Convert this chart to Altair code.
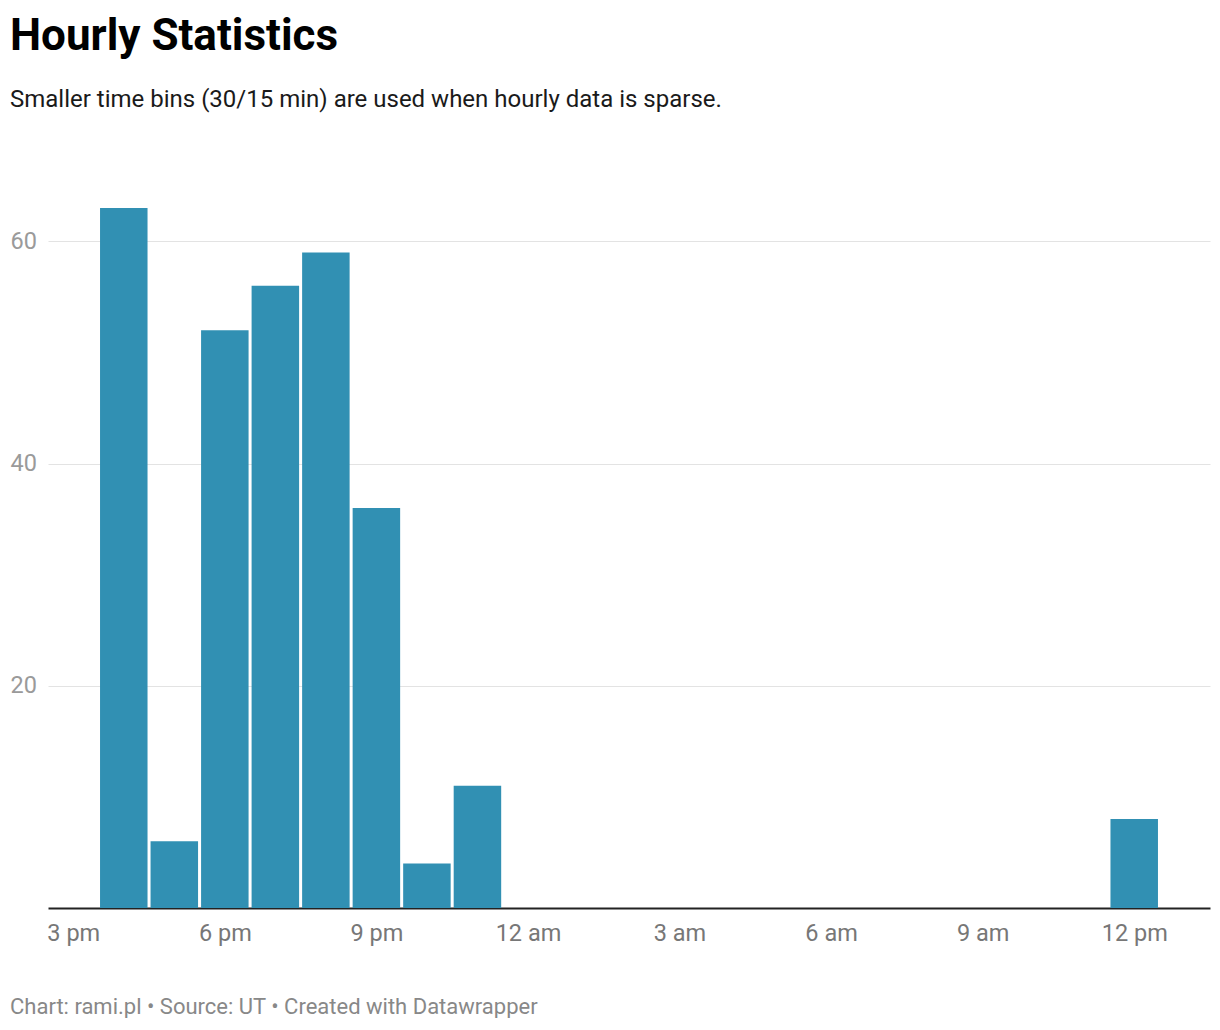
import altair as alt
import pandas as pd
from datetime import datetime, timezone

# ---- data ----
bin_times = [
    "2024-01-01T16:00:00Z", "2024-01-01T17:00:00Z", "2024-01-01T18:00:00Z",
    "2024-01-01T19:00:00Z", "2024-01-01T20:00:00Z", "2024-01-01T21:00:00Z",
    "2024-01-01T22:00:00Z", "2024-01-01T23:00:00Z", "2024-01-02T12:00:00Z",
]
counts = [63, 6, 52, 56, 59, 36, 4, 11, 8]
y_ticks = [20, 40, 60]
x_tick_hours = [(1, 15), (1, 18), (1, 21), (2, 0), (2, 3), (2, 6), (2, 9), (2, 12)]
domain_start = (1, 14, 30)
domain_end = (2, 13, 30)

title_text = "Hourly Statistics"
subtitle_text = "Smaller time bins (30/15 min) are used when hourly data is sparse."
footer_text = "Chart: rami.pl \u2022 Source: UT \u2022 Created with Datawrapper"


def ms(day, hour, minute=0):
    return int(datetime(2024, 1, day, hour, minute, tzinfo=timezone.utc).timestamp() * 1000)


df = pd.DataFrame({"t": bin_times, "count": counts})

FONT = "Roboto"
BAR = "#3190b3"

x_scale = alt.Scale(type="utc", domain=[ms(*domain_start), ms(*domain_end)], padding=0)
y_scale = alt.Scale(domain=[0, 63], nice=False, padding=0)

bars = alt.Chart(df).mark_bar(width=47.5, color=BAR).encode(
    x=alt.X(
        "t:T",
        scale=x_scale,
        title=None,
        axis=alt.Axis(
            values=[ms(d, h) for d, h in x_tick_hours],
            labelExpr="lower(utcFormat(datum.value, '%-I %p'))",
            ticks=False,
            tickSize=0,
            grid=False,
            domainColor="#222222",
            domainWidth=2,
            labelColor="#777777",
            labelFontSize=23.5,
            labelFont=FONT,
            labelPadding=13,
            labelFlush=False,
            labelOverlap=False,
        ),
    ),
    y=alt.Y(
        "count:Q",
        scale=y_scale,
        title=None,
        axis=alt.Axis(
            values=y_ticks,
            grid=True,
            gridColor="#e3e3e3",
            gridWidth=1.2,
            domain=False,
            ticks=False,
            tickSize=0,
            labelAlign="left",
            labelBaseline="middle",
            labelPadding=38,
            labelColor="#9a9a9a",
            labelFontSize=23.5,
            labelFont=FONT,
        ),
    ),
)

one = pd.DataFrame({"a": [0]})

title = alt.Chart(one).mark_text(
    text=title_text, font=FONT, fontSize=44, fontWeight="bold", color="#000000",
    align="left", baseline="alphabetic",
).encode(x=alt.value(-38), y=alt.value(-158))

subtitle = alt.Chart(one).mark_text(
    text=subtitle_text, font=FONT, fontSize=24, color="#1a1a1a",
    align="left", baseline="alphabetic",
).encode(x=alt.value(-38), y=alt.value(-101))

footer = alt.Chart(one).mark_text(
    text=footer_text, font=FONT, fontSize=22, color="#888888",
    align="left", baseline="alphabetic",
).encode(x=alt.value(-38), y=alt.value(806))

chart = alt.layer(bars, title, subtitle, footer).properties(
    width=1162,
    height=700,
    autosize=alt.AutoSizeParams(type="none"),
    padding={"left": 40, "top": 200, "right": 2, "bottom": 110},
    background="#ffffff",
).configure_view(stroke=None)

chart.save("out.html", embed_options={"renderer": "svg", "actions": False})
